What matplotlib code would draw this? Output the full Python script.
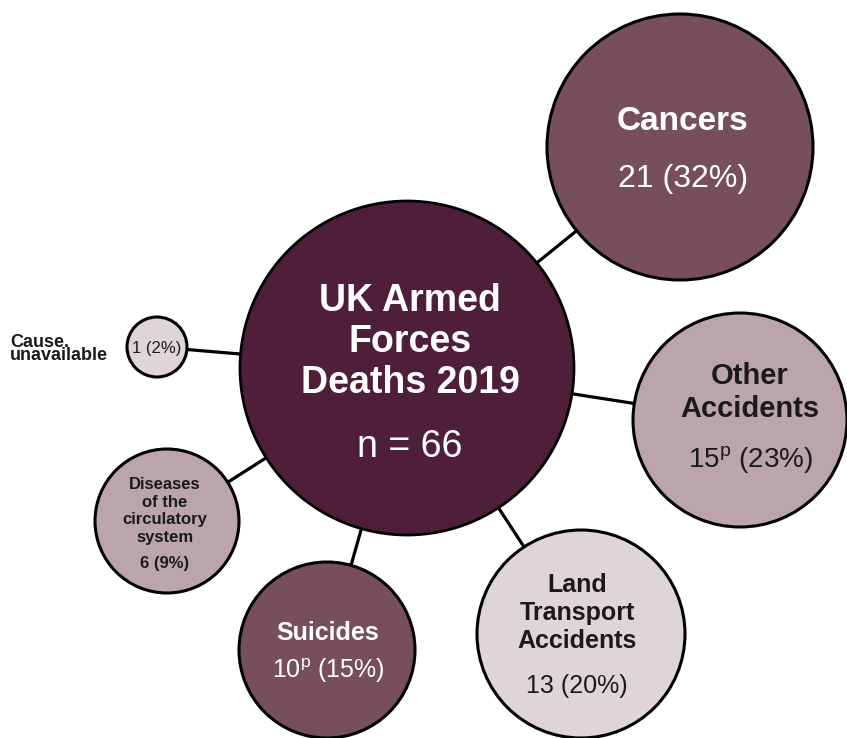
import matplotlib
matplotlib.use("Agg")
import matplotlib.pyplot as plt
from matplotlib.patches import Circle

plt.rcParams['font.family'] = ['Liberation Sans', 'DejaVu Sans']
plt.rcParams['mathtext.fontset'] = 'custom'
plt.rcParams['mathtext.rm'] = 'Liberation Sans'
plt.rcParams['mathtext.default'] = 'regular'

# ---- data ----
title_lines = ["UK Armed", "Forces", "Deaths 2019"]
categories = ["Cancers", "Other\nAccidents", "Land\nTransport\nAccidents",
              "Suicides", "Diseases\nof the\ncirculatory\nsystem", "Cause unavailable"]
counts = [21, 15, 13, 10, 6, 1]
percents = [32, 23, 20, 15, 9, 2]
provisional = [False, True, False, True, False, False]
total = sum(counts)

# ---- layout (pixel coordinates) ----
W, H = 847, 738
center_node = dict(cx=407, cy=368, r=167, tx=410, name_base=393, count_base=457, fs=27)
# cx, cy, r, text x, name last baseline, count baseline, name fs, count fs, linespacing, count bold
layout = [
    (680, 147, 133, 683, 130, 187, 24, 23, 1.2, False),
    (740, 420, 107, 750, 417, 467, 21, 20, 1.25, False),
    (581, 634, 104, 577, 648, 693, 18, 18, 1.2, False),
    (327, 650, 88, 328, 640, 678, 18, 18, 1.2, False),
    (167, 521, 72, 165, 542, 568, 12, 12, 1.22, True),
    (157, 347, 30, 157, None, 353, 12, 12, 1.2, False),
]
fills = ["#774F5C", "#BBA5AA", "#DDD5D6", "#774F5C", "#BBA5AA", "#DDD5D6"]
text_cols = ["white", "#1a1a1a", "#1a1a1a", "white", "#1a1a1a", "#1a1a1a"]

fig = plt.figure(figsize=(W / 100, H / 100), dpi=100)
ax = fig.add_axes([0, 0, 1, 1])
ax.set_xlim(0, W)
ax.set_ylim(H, 0)
ax.set_aspect('equal')
ax.axis('off')

# connectors
for (cx, cy, r, *_rest) in layout:
    ax.plot([center_node['cx'], cx], [center_node['cy'], cy], color='black',
            lw=2.3, zorder=1, solid_capstyle='butt')

# central circle
ax.add_patch(Circle((center_node['cx'], center_node['cy']), center_node['r'],
                    facecolor="#4F1F3A", edgecolor='black', lw=2.0, zorder=2))
ax.text(center_node['tx'], center_node['name_base'], "\n".join(title_lines),
        ha='center', va='baseline', fontsize=center_node['fs'], fontweight='bold',
        color='white', linespacing=1.18, zorder=5, multialignment='center')
ax.text(center_node['tx'], center_node['count_base'], f"n = {total}",
        ha='center', va='baseline', fontsize=center_node['fs'], color='white', zorder=5)

for i, (cx, cy, r, tx, nb, cb, nfs, cfs, ls, cbold) in enumerate(layout):
    ax.add_patch(Circle((cx, cy), r, facecolor=fills[i], edgecolor='black',
                        lw=2.2, zorder=2))
    sup = r"$^{\mathrm{p}}$" if provisional[i] else ""
    label = f"{counts[i]}{sup} ({percents[i]}%)"
    if nb is not None:
        ax.text(tx, nb, categories[i], ha='center', va='baseline', fontsize=nfs,
                fontweight='bold', color=text_cols[i], linespacing=ls, zorder=5,
                multialignment='center')
    ax.text(tx, cb, label, ha='center', va='baseline', fontsize=cfs,
            fontweight='bold' if cbold else 'normal',
            color=text_cols[i], zorder=5)

# external label for the smallest node (tightly stacked, as in the reference)
cause_words = categories[5].split(" ")
ax.text(10, 360, cause_words[0] + ".\n" + cause_words[1], ha='left', va='baseline',
        fontsize=13, fontweight='bold', color='#1a1a1a', zorder=5,
        linespacing=0.72, multialignment='left')

fig.savefig("out.png", dpi=100, facecolor='white')
